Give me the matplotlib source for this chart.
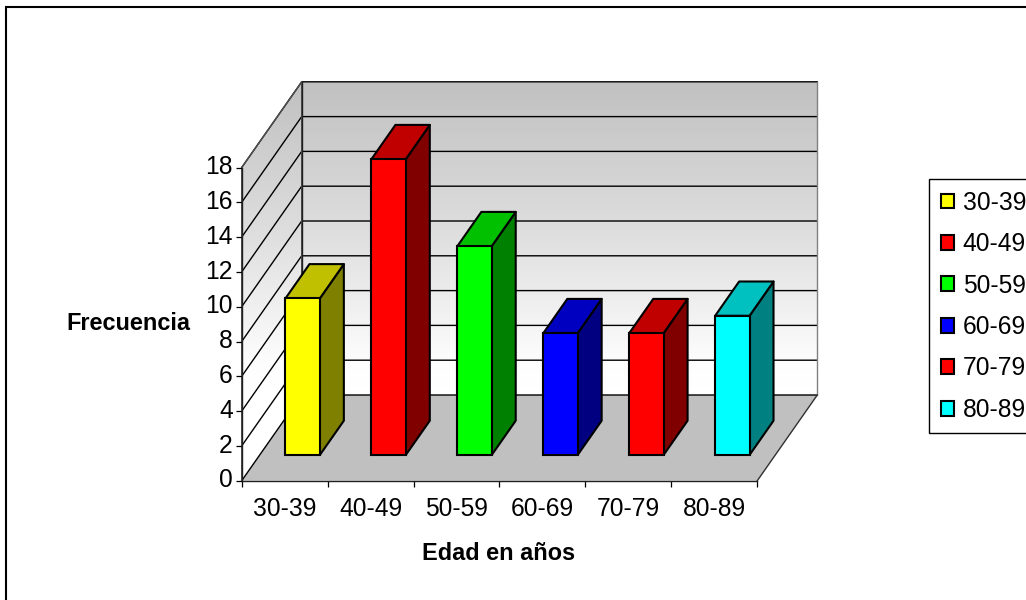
import numpy as np
import matplotlib
matplotlib.use('Agg')
import matplotlib.pyplot as plt
from matplotlib.colors import LinearSegmentedColormap
from matplotlib.patches import Patch, Polygon, Rectangle
from matplotlib.transforms import ScaledTranslation

plt.rcParams['font.family'] = ['Liberation Sans', 'DejaVu Sans']

# data
categories = ['30-39', '40-49', '50-59', '60-69', '70-79', '80-89']
values = [9, 17, 12, 7, 7, 8]
front_colors = ['#ffff00', '#ff0000', '#00ff00', '#0000ff', '#ff0000', '#00ffff']
top_colors = ['#c0c000', '#c00000', '#00c000', '#0000c0', '#c00000', '#00c0c0']
side_colors = ['#808000', '#800000', '#008000', '#000080', '#800000', '#008080']
y_ticks = list(range(0, 20, 2))

W, H = 1026, 600
FS = 17.7
FS_BOLD = 16.9

# oblique depth: one full depth step in data units
DEPTH_X = 60 / (515.6 / 6)
DEPTH_Y = 85.7 / 17.4


def project(x, v, d):
    return x + d * DEPTH_X, v + d * DEPTH_Y


def face(ax, corners, **kw):
    ax.add_patch(Polygon([project(*c) for c in corners], closed=True, clip_on=False, **kw))


fig = plt.figure(figsize=(W / 100, H / 100), dpi=100, facecolor='white')
ax = fig.add_axes([241.7 / W, 1 - 480.7 / H, 515.6 / W, 313.2 / H])
ax.set_xlim(0, 6)
ax.set_ylim(0, 18)
ax.patch.set_visible(False)

# outer chart frame, runs off the right and bottom of the picture
fig.add_artist(Rectangle((5.5 / W, -20 / H), 1060 / W, (20 + 593) / H, transform=fig.transFigure,
                         fill=False, ec='black', lw=1.5))

# gradient on the two walls, it follows screen height
wall_cmap = LinearSegmentedColormap.from_list(
    'wall', [(0, '#ffffff'), (0.1, '#fdfdfd'), (0.5, '#dfdfdf'), (1, '#c0c0c0')])
v_edges = np.linspace(0, 18, 120)
d_edges = np.linspace(0, 1, 40)
v_mid = (v_edges[:-1] + v_edges[1:]) / 2
d_mid = (d_edges[:-1] + d_edges[1:]) / 2

xb, yb = project(np.array([0.0, 6.0]), v_edges[:, None], 1.0)
ax.pcolormesh(np.broadcast_to(xb, (120, 2)), yb + np.zeros((120, 2)), (v_mid / 18)[:, None],
              cmap=wall_cmap, vmin=0, vmax=1, zorder=1, clip_on=False, rasterized=True)

xs, ys = project(0.0, v_edges[:, None], d_edges[None, :])
side_shade = np.clip((v_mid[:, None] + (d_mid[None, :] - 1) * DEPTH_Y) / 18, 0, 1)
ax.pcolormesh(xs + np.zeros(ys.shape), ys, side_shade, cmap=wall_cmap, vmin=0, vmax=1,
              zorder=1, clip_on=False, rasterized=True)

# floor
face(ax, [(0, 0, 0), (6, 0, 0), (6, 0, 1), (0, 0, 1)], fc='#c0c0c0', ec='none', zorder=1.2)

# gridlines on side and back wall
for v in y_ticks:
    x_line, y_line = project(np.array([0, 0, 6]), v, np.array([0, 1, 1]))
    ax.plot(x_line, y_line, color='black', lw=1.0, clip_on=False, zorder=1.4, solid_joinstyle='miter')

# wall and floor outlines
for corners, col in [([(0, 0, 0), (0, 18, 0), (0, 18, 1), (0, 0, 1)], '#505050'),
                     ([(6, 0, 1), (6, 18, 1)], '#808080'),
                     ([(6, 0, 0), (6, 0, 1)], '#303030'),
                     ([(0, 0, 1), (0, 18, 1)], '#202020')]:
    pts = np.array([project(*c) for c in corners])
    ax.plot(pts[:, 0], pts[:, 1], color=col, lw=1.0, clip_on=False, zorder=1.5)

# bars: front through ax.bar, sides and tops as oblique faces
x_pos = np.arange(len(categories))
bar_d0, bar_d1 = 0.3, 0.7
bar_w = 0.4
x_left = x_pos + 0.3
x0, y0 = project(x_left, 0, bar_d0)
ax.bar(x0, values, width=bar_w, bottom=y0, align='edge', color=front_colors, edgecolor='black',
       linewidth=1.5, clip_on=False, zorder=3)
for xl, val, top, side in zip(x_left, values, top_colors, side_colors):
    xr = xl + bar_w
    face(ax, [(xr, 0, bar_d0), (xr, 0, bar_d1), (xr, val, bar_d1), (xr, val, bar_d0)],
         fc=side, ec='black', lw=1.5, joinstyle='round', zorder=2.8)
    face(ax, [(xl, val, bar_d0), (xr, val, bar_d0), (xr, val, bar_d1), (xl, val, bar_d1)],
         fc=top, ec='black', lw=1.5, joinstyle='round', zorder=2.8)

# axes
for name in ['top', 'right']:
    ax.spines[name].set_visible(False)
for name in ['left', 'bottom']:
    ax.spines[name].set_linewidth(1.0)
    ax.spines[name].set_color('#202020')
ax.set_yticks(y_ticks)
ax.set_xticks(np.arange(7))
ax.set_xticklabels([])
ax.set_xticks(x_pos + 0.5, minor=True)
ax.set_xticklabels(categories, minor=True, fontsize=FS)
ax.tick_params(axis='x', which='major', length=4.5, width=0.9, direction='out')
ax.tick_params(axis='x', which='minor', length=0, pad=12)
ax.tick_params(axis='y', length=4.5, width=0.9, direction='out', labelsize=FS, pad=2)

# original labels sit a little above their ticks
up = ScaledTranslation(0, 2 / 72, fig.dpi_scale_trans)
for lab in ax.get_yticklabels():
    lab.set_transform(lab.get_transform() + up)

ax.set_xlabel('Edad en años', fontsize=FS_BOLD, fontweight='bold')
ax.xaxis.set_label_coords(0.499, -0.232)
ax.xaxis.label.set_va('center')
ax.set_ylabel('Frecuencia', fontsize=FS_BOLD, fontweight='bold', rotation=0, ha='right', va='center')
ax.yaxis.set_label_coords(-0.1, 0.503)

# legend runs off the right edge like in the original
handles = [Patch(fc=c, ec='black', lw=1.5) for c in front_colors]
leg = fig.legend(handles, categories, loc='upper left', bbox_to_anchor=(929.3 / W, 1 - 179.3 / H),
                 borderaxespad=0, fontsize=FS, frameon=True, fancybox=False, edgecolor='black',
                 framealpha=1, handlelength=0.55, handleheight=0.55, handletextpad=0.35,
                 labelspacing=0.71, borderpad=0.46)
leg.get_frame().set_linewidth(1.0)

fig.savefig('out.png', dpi=100)
